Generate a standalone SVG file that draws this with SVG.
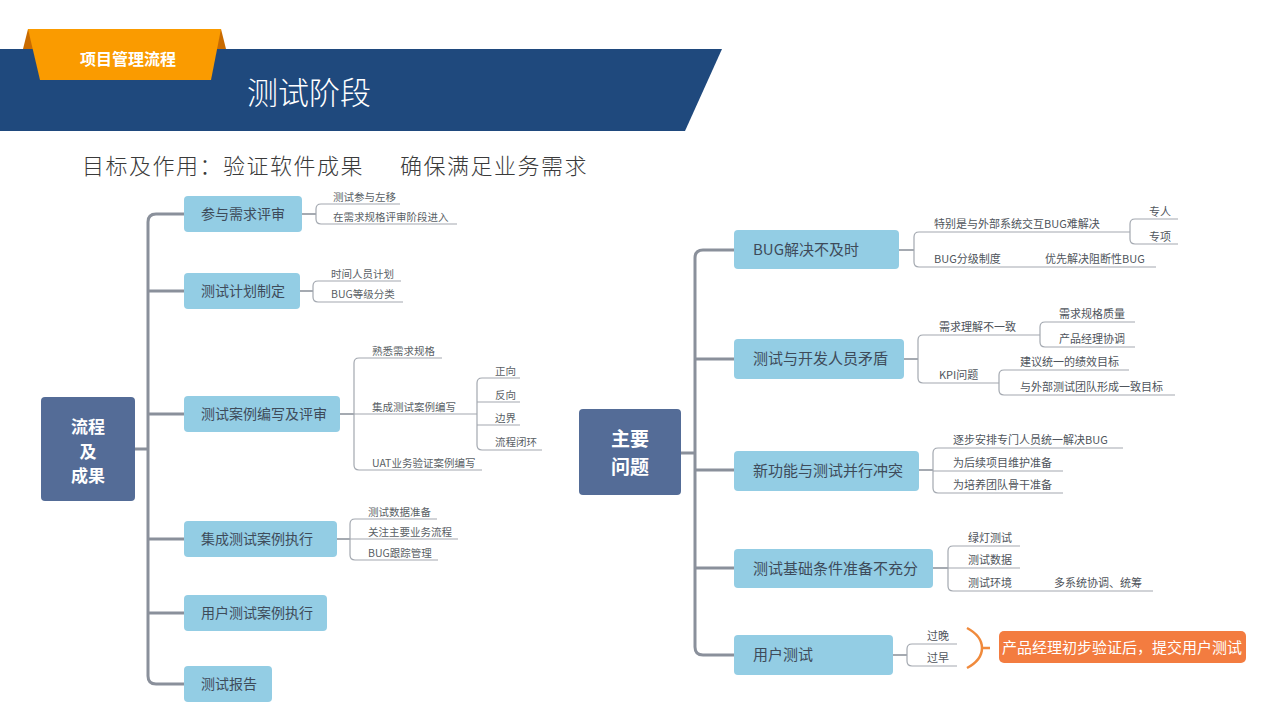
<svg xmlns="http://www.w3.org/2000/svg" width="1280" height="720" viewBox="0 0 1280 720">
<style>
text{font-family:"Noto Sans CJK SC","Noto Sans",sans-serif}
.nd{fill:#93cde4}
.ctr{fill:#546c97}
.nt{font-size:14px;fill:#3e4b5a}
.rnt{font-size:15px;fill:#3e4b5a}
.ct{font-size:17px;font-weight:bold;fill:#ffffff;text-anchor:middle}
.ct2{font-size:19px;font-weight:bold;fill:#ffffff;text-anchor:middle}
.st{font-size:10.5px;fill:#5a5f66}
.rst{font-size:11px;fill:#4f555c}
.trunk{fill:none;stroke:#8a909b;stroke-width:3}
.br{fill:none;stroke:#8f959e;stroke-width:1.6}
.sl{fill:none;stroke:#a3a8b0;stroke-width:1.2}
</style>
<rect width="1280" height="720" fill="#ffffff"/>
<g id="header">
<polygon points="0,49 722,49 685,131 0,131" fill="#1f497d"/>
<polygon points="23,49 28,29 221,29 226,49" fill="#c96b00"/>
<polygon points="28,29 221,29 211,80 40,80" fill="#fa9b00"/>
<text x="128" y="65" font-size="16" font-weight="bold" fill="#ffffff" text-anchor="middle">项目管理流程</text>
<text x="247" y="104" font-size="31" font-weight="300" fill="#ffffff">测试阶段</text>
</g>
<g id="subtitle">
<text y="174" font-size="22" font-weight="300" fill="#3a3a3a" letter-spacing="1.5"><tspan x="82">目标及作用：验证软件成果</tspan><tspan x="400">确保满足业务需求</tspan></text>
</g>
<g id="connectors">
<path class="trunk" d="M184 214 H156 Q148 214 148 222 V676 Q148 684 156 684 H184"/>
<path class="trunk" d="M148 291 H184 M148 414 H184 M148 539 H184 M148 613 H184 M135 449 H148"/>
<path class="br" d="M302 214 H316"/>
<path class="sl" d="M400 204 H321 Q316 204 316 209 V219 Q316 224 321 224 H457"/>
<path class="br" d="M300 291 H313"/>
<path class="sl" d="M401 281 H318 Q313 281 313 286 V297 Q313 302 318 302 H403"/>
<path class="br" d="M340 414 H354"/>
<path class="sl" d="M442 358 H359 Q354 358 354 363 V465 Q354 470 359 470 H482 M354 414 H477"/>
<path class="sl" d="M520 378 H482 Q477 378 477 383 V445 Q477 450 482 450 H542 M477 402 H520 M477 425 H520"/>
<path class="br" d="M337 539 H350"/>
<path class="sl" d="M437 519 H355 Q350 519 350 524 V555 Q350 560 355 560 H438 M350 539 H458"/>
<path class="trunk" d="M734 250 H703 Q695 250 695 258 V647 Q695 655 703 655 H734"/>
<path class="trunk" d="M695 359 H734 M695 470 H734 M695 568 H734 M681 453 H695"/>
<path class="br" d="M899 250 H914"/>
<path class="sl" d="M1130 232 H919 Q914 232 914 237 V262 Q914 267 919 267 H1156"/>
<path class="sl" d="M1178 219 H1135 Q1130 219 1130 224 V239 Q1130 244 1135 244 H1178"/>
<path class="br" d="M904 359 H918"/>
<path class="sl" d="M1040 335 H923 Q918 335 918 340 V378 Q918 383 923 383 H999"/>
<path class="sl" d="M1135 322 H1045 Q1040 322 1040 327 V342 Q1040 347 1045 347 H1135"/>
<path class="sl" d="M1129 370 H1004 Q999 370 999 375 V390 Q999 395 1004 395 H1175"/>
<path class="br" d="M919 470 H933"/>
<path class="sl" d="M1123 448 H938 Q933 448 933 453 V488 Q933 493 938 493 H1063 M933 471 H1063"/>
<path class="br" d="M933 568 H948"/>
<path class="sl" d="M1020 546 H953 Q948 546 948 551 V586 Q948 591 953 591 H1153 M948 568 H1020"/>
<path class="br" d="M893 655 H907"/>
<path class="sl" d="M957 644 H912 Q907 644 907 649 V661 Q907 666 912 666 H957"/>
<path d="M967 628 Q982 636 982 648 Q982 660 967 668 M982 648 H990" fill="none" stroke="#f08a3c" stroke-width="2.5"/>
</g>
<g id="left-center"><rect class="ctr" x="41" y="397" width="94" height="104" rx="4"/><text class="ct" x="88" y="433">流程</text><text class="ct" x="88" y="458">及</text><text class="ct" x="88" y="482">成果</text></g>
<g id="l1"><rect class="nd" x="184" y="196" width="118" height="36" rx="4"/><text class="nt" x="201" y="219">参与需求评审</text></g>
<g id="l1s"><text class="st" x="333" y="201">测试参与左移</text><text class="st" x="333" y="221">在需求规格评审阶段进入</text></g>
<g id="l2"><rect class="nd" x="184" y="273" width="116" height="36" rx="4"/><text class="nt" x="201" y="296">测试计划制定</text></g>
<g id="l2s"><text class="st" x="331" y="278">时间人员计划</text><text class="st" x="331" y="298">BUG等级分类</text></g>
<g id="l3"><rect class="nd" x="184" y="396" width="156" height="36" rx="4"/><text class="nt" x="201" y="419">测试案例编写及评审</text></g>
<g id="l3s"><text class="st" x="372" y="355">熟悉需求规格</text><text class="st" x="372" y="411">集成测试案例编写</text><text class="st" x="372" y="467">UAT业务验证案例编写</text><text class="st" x="495" y="375">正向</text><text class="st" x="495" y="399">反向</text><text class="st" x="495" y="422">边界</text><text class="st" x="495" y="446">流程闭环</text></g>
<g id="l4"><rect class="nd" x="184" y="521" width="153" height="36" rx="4"/><text class="nt" x="201" y="544">集成测试案例执行</text></g>
<g id="l4s"><text class="st" x="368" y="516">测试数据准备</text><text class="st" x="368" y="536">关注主要业务流程</text><text class="st" x="368" y="557">BUG跟踪管理</text></g>
<g id="l5"><rect class="nd" x="184" y="595" width="143" height="36" rx="4"/><text class="nt" x="201" y="618">用户测试案例执行</text></g>
<g id="l6"><rect class="nd" x="184" y="666" width="88" height="36" rx="4"/><text class="nt" x="201" y="689">测试报告</text></g>
<g id="right-center"><rect class="ctr" x="579" y="409" width="102" height="86" rx="4"/><text class="ct2" x="630" y="446">主要</text><text class="ct2" x="630" y="474">问题</text></g>
<g id="r1"><rect class="nd" x="734" y="230" width="165" height="39" rx="4"/><text class="rnt" x="753" y="255">BUG解决不及时</text></g>
<g id="r1s"><text class="rst" x="934" y="228">特别是与外部系统交互BUG难解决</text><text class="rst" x="1149" y="216">专人</text><text class="rst" x="1149" y="241">专项</text><text class="rst" x="934" y="263">BUG分级制度</text><text class="rst" x="1045" y="263">优先解决阻断性BUG</text></g>
<g id="r2"><rect class="nd" x="734" y="339" width="170" height="40" rx="4"/><text class="rnt" x="753" y="364">测试与开发人员矛盾</text></g>
<g id="r2s"><text class="rst" x="939" y="331">需求理解不一致</text><text class="rst" x="1059" y="318">需求规格质量</text><text class="rst" x="1059" y="343">产品经理协调</text><text class="rst" x="939" y="379">KPI问题</text><text class="rst" x="1020" y="366">建议统一的绩效目标</text><text class="rst" x="1020" y="391">与外部测试团队形成一致目标</text></g>
<g id="r3"><rect class="nd" x="734" y="451" width="185" height="40" rx="4"/><text class="rnt" x="753" y="476">新功能与测试并行冲突</text></g>
<g id="r3s"><text class="rst" x="953" y="444">逐步安排专门人员统一解决BUG</text><text class="rst" x="953" y="467">为后续项目维护准备</text><text class="rst" x="953" y="489">为培养团队骨干准备</text></g>
<g id="r4"><rect class="nd" x="734" y="549" width="199" height="39" rx="4"/><text class="rnt" x="753" y="574">测试基础条件准备不充分</text></g>
<g id="r4s"><text class="rst" x="968" y="542">绿灯测试</text><text class="rst" x="968" y="564">测试数据</text><text class="rst" x="968" y="587">测试环境</text><text class="rst" x="1054" y="587">多系统协调、统筹</text></g>
<g id="r5"><rect class="nd" x="734" y="635" width="159" height="40" rx="4"/><text class="rnt" x="753" y="660">用户测试</text></g>
<g id="r5s"><text class="rst" x="927" y="640">过晚</text><text class="rst" x="927" y="662">过早</text></g>
<g id="r5note"><rect x="999" y="631" width="247" height="32" rx="5" fill="#f37c40"/><text x="1122" y="653" font-size="15" fill="#ffffff" text-anchor="middle">产品经理初步验证后，提交用户测试</text></g>
</svg>
